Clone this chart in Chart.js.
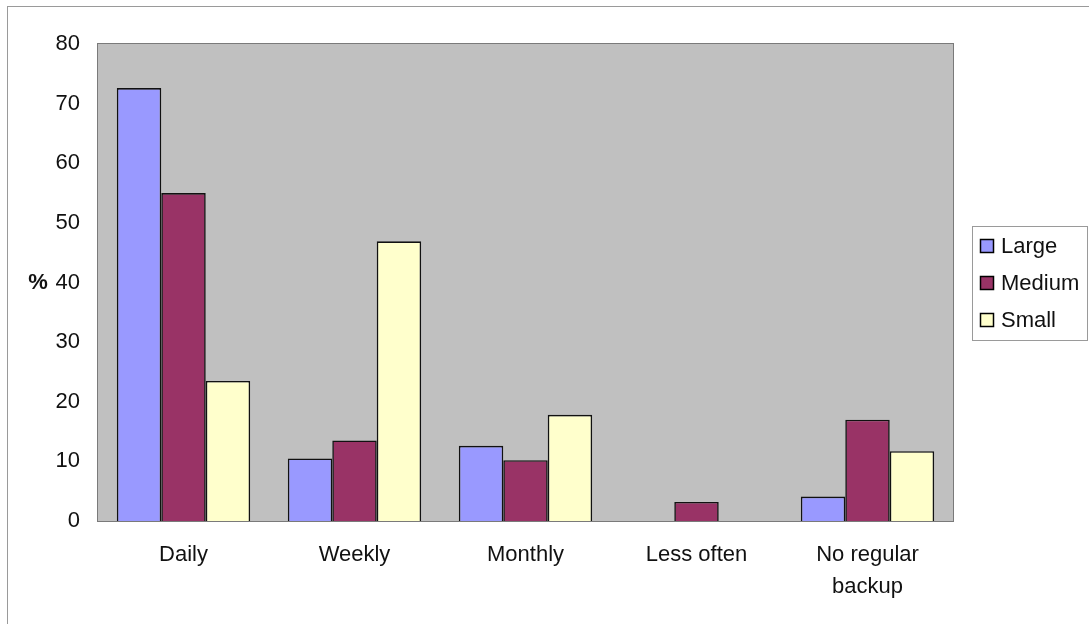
<!DOCTYPE html>
<html>
<head>
<meta charset="utf-8">
<title>Backup frequency by company size</title>
<script src="https://cdn.jsdelivr.net/npm/chart.js@4.4.0/dist/chart.umd.min.js"></script>
<style>
  html, body { margin: 0; padding: 0; background: #fff; }
  #wrap { width: 1089px; height: 624px; position: relative; }
</style>
</head>
<body>
<div id="wrap"><canvas id="backupChart"></canvas></div>
<script>
// backup frequency, % of firms per size class
const categories = ["Daily", "Weekly", "Monthly", "Less often", ["No regular", "backup"]];
const largeValues = [72.6, 10.5, 12.6, 0, 4.1];
const mediumValues = [55.0, 13.5, 10.2, 3.2, 17.0];
const smallValues = [23.5, 46.9, 17.8, 0, 11.7];
const seriesNames = ["Large", "Medium", "Small"];
const yTicks = [0, 10, 20, 30, 40, 50, 60, 70, 80];

const FONT = "Arial, 'Liberation Sans', sans-serif";
const TEXT = "#111";

// grey plot area with its frame, plus the outer chart border
const plotBackground = {
  id: "plotBackground",
  beforeDraw(chart) {
    const { ctx, chartArea: a } = chart;
    ctx.save();
    ctx.strokeStyle = "#9a9a9a";
    ctx.lineWidth = 1;
    ctx.strokeRect(7.5, 6.5, 1200, 700);
    ctx.fillStyle = "#c0c0c0";
    ctx.fillRect(a.left, a.top, a.right - a.left, a.bottom - a.top);
    ctx.strokeStyle = "#7a7a7a";
    ctx.strokeRect(Math.round(a.left) - 0.5, Math.round(a.top) - 0.5, a.right - a.left + 1, a.bottom - a.top + 1);
    ctx.restore();
  }
};

// "%" sits horizontally beside the 40 tick
const percentLabel = {
  id: "percentLabel",
  afterDraw(chart) {
    const { ctx } = chart;
    const y = chart.scales.y.getPixelForValue(40);
    ctx.save();
    ctx.font = "bold 22px " + FONT;
    ctx.fillStyle = TEXT;
    ctx.textAlign = "center";
    ctx.textBaseline = "middle";
    ctx.fillText("%", 38, y);
    ctx.restore();
  }
};

// boxed legend to the right of the plot
const boxedLegend = {
  id: "boxedLegend",
  afterDraw(chart) {
    const { ctx } = chart;
    const box = { left: 972, top: 226, width: 115, height: 114 };
    ctx.save();
    ctx.fillStyle = "#fff";
    ctx.fillRect(box.left, box.top, box.width, box.height);
    ctx.strokeStyle = "#9a9a9a";
    ctx.lineWidth = 1;
    ctx.strokeRect(box.left + 0.5, box.top + 0.5, box.width, box.height);
    ctx.font = "22px " + FONT;
    ctx.textBaseline = "middle";
    chart.data.datasets.forEach((ds, i) => {
      const cy = 246 + i * 37;
      ctx.fillStyle = ds.backgroundColor;
      ctx.fillRect(980.5, cy - 6.5, 13, 13);
      ctx.strokeStyle = "#000";
      ctx.lineWidth = 1.5;
      ctx.strokeRect(980.5, cy - 6.5, 13, 13);
      ctx.fillStyle = TEXT;
      ctx.fillText(ds.label, 1001, cy + 1);
    });
    ctx.restore();
  }
};

new Chart(document.getElementById("backupChart"), {
  type: "bar",
  data: {
    labels: categories,
    datasets: [
      { label: seriesNames[0], data: largeValues, backgroundColor: "#9999ff" },
      { label: seriesNames[1], data: mediumValues, backgroundColor: "#993366" },
      { label: seriesNames[2], data: smallValues, backgroundColor: "#ffffcc" }
    ]
  },
  options: {
    responsive: true,
    maintainAspectRatio: false,
    animation: false,
    layout: { padding: { top: 44, right: 136, bottom: 0, left: 0 } },
    datasets: {
      bar: {
        borderColor: "#111",
        borderWidth: 1.6,
        categoryPercentage: 0.78,
        barPercentage: 1.0
      }
    },
    scales: {
      x: {
        grid: { display: false, drawTicks: false },
        border: { display: false },
        ticks: {
          color: TEXT,
          padding: 18,
          maxRotation: 0,
          autoSkip: false,
          font: { family: FONT, size: 22, lineHeight: 1.45 }
        },
        afterFit(scale) { scale.height = 103; }
      },
      y: {
        min: 0,
        max: 80,
        afterBuildTicks(scale) { scale.ticks = yTicks.map(v => ({ value: v })); },
        grid: { display: false, drawTicks: false },
        border: { display: false },
        ticks: {
          color: TEXT,
          padding: 18,
          font: { family: FONT, size: 22 }
        },
        afterFit(scale) { scale.width = 98; }
      }
    },
    plugins: {
      legend: { display: false },
      tooltip: { enabled: false }
    }
  },
  plugins: [plotBackground, percentLabel, boxedLegend]
});
</script>
</body>
</html>
